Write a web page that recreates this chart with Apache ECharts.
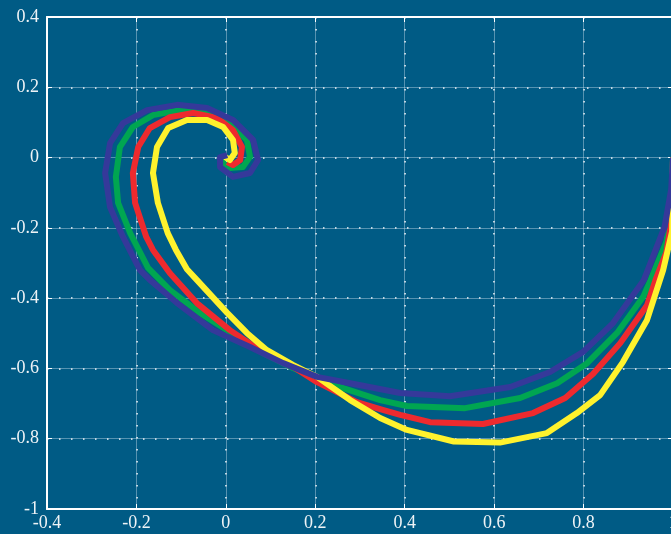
<!DOCTYPE html>
<html>
<head>
<meta charset="utf-8">
<script src="https://cdn.jsdelivr.net/npm/echarts@6/dist/echarts.min.js"></script>
<style>
  html, body { margin: 0; padding: 0; background: #005b85; }
  #chart { width: 671px; height: 534px; }
</style>
</head>
<body>
<div id="chart"></div>
<script>
// axis ranges and tick step
const xRange = [-0.4, 1];
const yRange = [-1, 0.4];
const tickStep = 0.2;

// curves, [x, y]
const yellowCurve = [
  [1.0, 0.0], [0.998, -0.21], [0.978, -0.32], [0.942, -0.462], [0.888, -0.582],
  [0.837, -0.676], [0.785, -0.727], [0.718, -0.784], [0.613, -0.811], [0.510, -0.808],
  [0.405, -0.775], [0.345, -0.741], [0.278, -0.690], [0.204, -0.624], [0.150, -0.590],
  [0.092, -0.548], [0.047, -0.499], [0.003, -0.442], [-0.065, -0.348], [-0.087, -0.318],
  [-0.112, -0.262], [-0.130, -0.215], [-0.152, -0.129], [-0.163, -0.044], [-0.154, 0.030],
  [-0.129, 0.084], [-0.087, 0.107], [-0.042, 0.107], [-0.006, 0.087], [0.016, 0.050],
  [0.020, 0.013], [0.009, -0.007], [-0.002, 0.002]
];
const redCurve = [
  [1.0, 0.0], [0.998, -0.17], [0.985, -0.27], [0.961, -0.348], [0.942, -0.42],
  [0.882, -0.528], [0.821, -0.616], [0.759, -0.684], [0.687, -0.727], [0.575, -0.758],
  [0.457, -0.753], [0.390, -0.732], [0.345, -0.716], [0.293, -0.696], [0.204, -0.639],
  [0.144, -0.590], [0.076, -0.548], [0.009, -0.491], [-0.065, -0.414], [-0.125, -0.329],
  [-0.163, -0.263], [-0.178, -0.226], [-0.203, -0.129], [-0.208, -0.044], [-0.196, 0.030],
  [-0.170, 0.084], [-0.125, 0.115], [-0.073, 0.127], [-0.020, 0.113], [0.016, 0.078],
  [0.036, 0.030], [0.032, -0.007], [0.016, -0.021], [0.003, -0.013]
];
const greenCurve = [
  [1.0, 0.0], [0.998, -0.14], [0.985, -0.24], [0.950, -0.348], [0.933, -0.397],
  [0.875, -0.499], [0.808, -0.585], [0.741, -0.642], [0.658, -0.684], [0.535, -0.713],
  [0.405, -0.707], [0.345, -0.690], [0.240, -0.647], [0.150, -0.599], [0.083, -0.556],
  [0.009, -0.496], [-0.058, -0.442], [-0.125, -0.377], [-0.174, -0.314], [-0.214, -0.215],
  [-0.241, -0.129], [-0.246, -0.055], [-0.237, 0.030], [-0.208, 0.087], [-0.163, 0.121],
  [-0.103, 0.135], [-0.042, 0.127], [0.009, 0.098], [0.047, 0.050], [0.054, 0.002],
  [0.038, -0.027], [0.009, -0.030], [-0.009, -0.013], [-0.002, 0.002]
];
const blueCurve = [
  [1.0, 0.0], [0.996, -0.09], [0.981, -0.198], [0.935, -0.348], [0.866, -0.471],
  [0.799, -0.553], [0.725, -0.610], [0.636, -0.653], [0.501, -0.679], [0.390, -0.670],
  [0.278, -0.642], [0.204, -0.624], [0.128, -0.585], [0.054, -0.539], [-0.029, -0.491],
  [-0.109, -0.414], [-0.170, -0.348], [-0.192, -0.320], [-0.230, -0.226], [-0.259, -0.141],
  [-0.270, -0.044], [-0.259, 0.041], [-0.230, 0.098], [-0.176, 0.135], [-0.109, 0.150],
  [-0.042, 0.141], [0.016, 0.107], [0.061, 0.050], [0.072, -0.007], [0.054, -0.044],
  [0.016, -0.055], [-0.013, -0.027], [-0.013, 0.001], [0.003, 0.007]
];

const chart = echarts.init(document.getElementById('chart'), null, { renderer: 'canvas' });

const labelFont = {
  color: '#eef3f6',
  fontFamily: 'Liberation Serif',
  fontSize: 18
};

// main axes carry the dots, the twin axes the faint solid lines + mirrored ticks
function mainAxis(range, pos, margin) {
  return {
    type: 'value',
    position: pos,
    min: range[0],
    max: range[1],
    interval: tickStep,
    axisLine: { show: true, onZero: false, lineStyle: { color: '#ffffff', width: 2 } },
    axisTick: { show: true, inside: true, length: 5, lineStyle: { color: '#ffffff' } },
    axisLabel: Object.assign({ margin: margin, hideOverlap: false }, labelFont),
    splitLine: { show: true, lineStyle: { color: '#ffffff', width: 1.5, type: [1.5, 10.5] } }
  };
}
function twinAxis(range, pos) {
  return {
    type: 'value',
    position: pos,
    min: range[0],
    max: range[1],
    interval: tickStep,
    axisLine: { show: true, onZero: false, lineStyle: { color: '#ffffff', width: 2 } },
    axisTick: { show: true, inside: true, length: 5, lineStyle: { color: '#ffffff' } },
    axisLabel: { show: false },
    splitLine: { show: true, lineStyle: { color: 'rgba(190,215,230,0.45)', width: 1 } }
  };
}

function curve(data, color) {
  return {
    type: 'line',
    data: data,
    showSymbol: false,
    symbol: 'none',
    clip: true,
    lineStyle: { color: color, width: 6, join: 'round' },
    silent: true,
    animation: false
  };
}

chart.setOption({
  backgroundColor: '#005b85',
  animation: false,
  grid: { left: 47, top: 17, right: -2, bottom: 25, containLabel: false, outerBoundsMode: 'none' },
  xAxis: [mainAxis(xRange, 'bottom', 5), twinAxis(xRange, 'top')],
  yAxis: [mainAxis(yRange, 'left', 8), twinAxis(yRange, 'right')],
  series: [
    curve(greenCurve, '#00a651'),
    curve(redCurve, '#ee2a2e'),
    curve(yellowCurve, '#fff22d'),
    curve(blueCurve, '#35399a')
  ]
});
</script>
</body>
</html>
